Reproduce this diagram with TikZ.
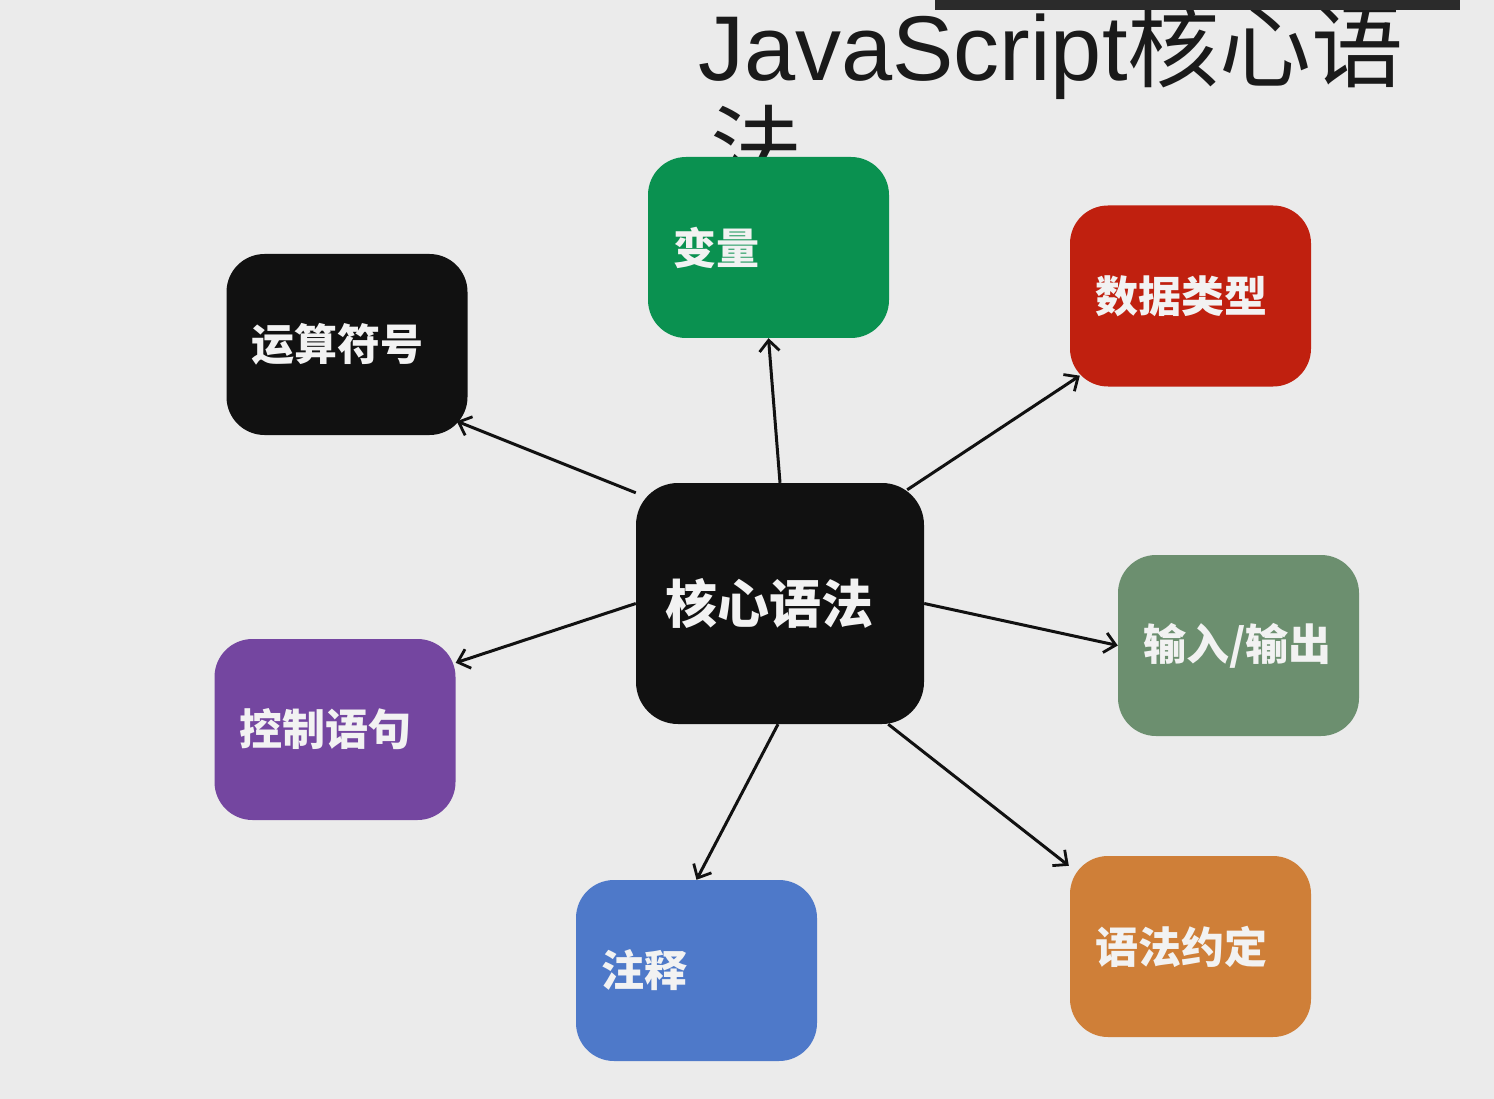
\documentclass[tikz,border=0pt]{standalone}
\usepackage{fontspec}
\setmainfont{Liberation Sans}
\newfontfamily\cjk{Noto Sans CJK SC}
\usetikzlibrary{arrows.meta,calc}
\definecolor{bgc}{HTML}{EBEBEB}
\definecolor{blk}{HTML}{111111}
\definecolor{grn}{HTML}{0A9150}
\definecolor{redc}{HTML}{C0200F}
\definecolor{sage}{HTML}{6C8F6F}
\definecolor{purp}{HTML}{7446A0}
\definecolor{blu}{HTML}{4E79C9}
\definecolor{orng}{HTML}{CF7F38}
\definecolor{txtc}{HTML}{F2F2F2}
\definecolor{ttl}{HTML}{1A1A1A}
\definecolor{barc}{HTML}{2B2B2B}
\tikzset{
  box/.style={rounded corners=38pt, minimum width=241pt, minimum height=181pt,
    text width=191pt, align=left, inner xsep=25pt, inner ysep=0pt, text=txtc,
    font=\cjk\bfseries\fontsize{43}{43}\selectfont},
  hub/.style={box, minimum width=288pt, minimum height=241pt, text width=230pt,
    inner xsep=29pt, rounded corners=42pt, font=\cjk\bfseries\fontsize{52}{52}\selectfont},
  conn/.style={line width=3pt, -{Straight Barb[length=11pt,width=20pt,line width=2.8pt]}, draw=blk}
}
\begin{document}
\begin{tikzpicture}[x=1pt,y=-1pt]
\useasboundingbox (0,0) rectangle (1494,1099);
\fill[bgc] (0,0) rectangle (1494,1099);
\node[anchor=north west, inner sep=0pt, align=left, text=ttl,
  font=\fontsize{92}{102}\selectfont] (title) at (698,3)
  {JavaScript{\cjk 核心语}\\\hspace*{12pt}{\cjk 法}};
\fill[barc] (935,0) rectangle (1460,10);
\node[hub, fill=blk] (c) at (780,603.5) {核心语法};
\node[box, fill=grn] (v) at (768.5,247.5) {变量};
\node[box, fill=redc] (sj) at (1190.5,296) {数据类型};
\node[box, fill=blk] (ys) at (347,344.5) {运算符号};
\node[box, fill=sage] (io) at (1238.5,645.5) {输入/输出};
\node[box, fill=purp] (kz) at (335,729.5) {控制语句};
\node[box, fill=blu] (zs) at (696.5,970.5) {注释};
\node[box, fill=orng] (yf) at (1190.5,946.5) {语法约定};
\draw[conn] (c.north) -- (v.south);
\draw[conn] ($(c.north west)+(0,10)$) -- ($(ys.south east)+(-11,-14)$);
\draw[conn] ($(c.north east)+(-17,7)$) -- ($(sj.south west)+(10,-11)$);
\draw[conn] (c.east) -- (io.west);
\draw[conn] ($(c.south east)+(-36,0)$) -- ($(yf.north west)+(-1,10)$);
\draw[conn] ($(c.south)+(-2,0)$) -- (zs.north);
\draw[conn] (c.west) -- ($(kz.north east)+(0,24)$);
\end{tikzpicture}
\end{document}
